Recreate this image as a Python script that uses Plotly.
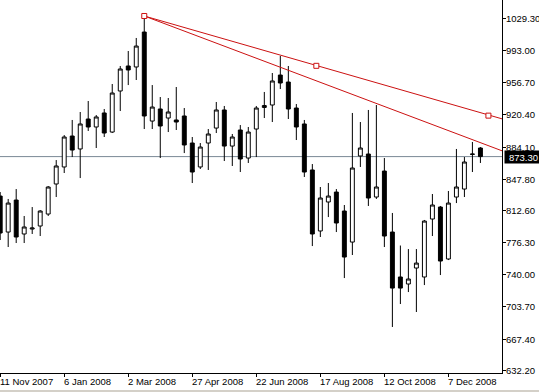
import plotly.graph_objects as go
import pandas as pd

# Weekly candles (XAUUSD), first bar week of 11 Nov 2007
dates = pd.date_range("2007-11-11", periods=61, freq="7D")

opens = [828.8, 788.2, 824.3, 786.0, 791.6, 795.0, 808.5, 842.4, 861.6, 896.5,
         881.9, 915.7, 906.7, 922.5, 901.0, 947.3, 975.5, 974.4, 1013.8, 913.4,
         927.0, 916.8, 914.6, 919.1, 888.6, 861.6, 888.6, 905.5, 925.9, 885.2,
         903.3, 871.7, 904.4, 928.7, 931.5, 965.3, 957.4, 928.1, 910.1, 858.2,
         789.4, 822.1, 833.3, 811.9, 776.9, 874.0, 876.2, 827.7, 857.0, 788.2,
         737.5, 729.6, 747.6, 737.5, 802.9, 816.4, 757.8, 827.7, 836.7, 876.2,
         883.0]
highs = [833.3, 825.5, 836.7, 806.3, 816.4, 813.0, 840.1, 869.4, 897.6, 914.6,
         923.6, 936.0, 920.2, 927.0, 955.2, 975.5, 992.4, 1007.1, 1031.9, 954.0,
         940.5, 939.4, 951.8, 928.1, 895.4, 888.6, 904.4, 934.9, 930.4, 898.8,
         908.9, 906.7, 930.4, 946.2, 967.6, 986.8, 975.5, 932.6, 914.6, 864.9,
         839.0, 843.5, 836.7, 818.7, 922.5, 912.3, 925.9, 931.5, 871.7, 809.7,
         773.0, 769.0, 769.0, 801.8, 831.1, 817.6, 834.5, 881.9, 872.8, 889.8,
         884.1]
lows = [779.2, 771.3, 775.8, 775.8, 786.0, 783.7, 806.3, 827.7, 854.8, 872.8,
        849.1, 902.2, 883.0, 895.4, 899.9, 924.7, 954.0, 959.7, 904.4, 904.4,
        871.7, 901.0, 903.3, 877.3, 843.5, 859.3, 858.2, 899.9, 868.3, 862.7,
        855.9, 866.1, 872.8, 916.8, 912.3, 949.5, 915.7, 892.0, 850.3, 772.4,
        782.6, 805.1, 788.2, 736.3, 762.3, 861.6, 817.6, 825.5, 771.3, 681.1,
        707.0, 720.5, 698.0, 728.4, 783.7, 739.7, 756.6, 820.9, 827.7, 855.9,
        866.1]
closes = [787.1, 820.9, 782.6, 793.9, 792.7, 811.9, 839.0, 862.7, 895.4, 880.7,
          910.1, 906.7, 918.0, 899.9, 945.0, 972.1, 971.0, 998.0, 919.1, 929.2,
          907.8, 923.6, 912.3, 886.4, 855.9, 884.1, 898.8, 925.9, 885.2, 895.4,
          870.6, 901.0, 928.1, 930.9, 958.6, 956.3, 927.0, 906.7, 855.9, 786.0,
          826.6, 828.8, 798.4, 760.0, 860.4, 883.0, 826.6, 839.0, 783.7, 725.0,
          725.0, 735.2, 753.2, 800.6, 818.7, 755.5, 820.9, 839.0, 867.2, 875.9,
          873.3]

bid_price = 873.3

# Trend lines (date, price)
upper_x = ["2008-03-16", "2009-01-11", "2009-01-25"]
upper_y = [1031.9, 919.5, 915.1]
upper_markers_x = ["2008-03-16", "2008-08-13 12:00", "2009-01-11"]
upper_markers_y = [1031.9, 975.7, 919.5]
lower_x = ["2008-03-16", "2009-01-25"]
lower_y = [1031.9, 878.8]

y_ticks = [1029.30, 993.00, 956.70, 920.40, 884.10, 847.80, 812.60, 776.30,
           740.00, 703.70, 667.40, 632.20]
x_tick_dates = ["2007-11-11", "2008-01-06", "2008-03-02", "2008-04-27",
                "2008-06-22", "2008-08-17", "2008-10-12", "2008-12-07"]
x_tick_labels = ["11 Nov 2007", "6 Jan 2008", "2 Mar 2008", "27 Apr 2008",
                 "22 Jun 2008", "17 Aug 2008", "12 Oct 2008", "7 Dec 2008"]

RED = "#cc1111"
FONT = "Liberation Sans"
FSIZE = 9.5

fig = go.Figure()
fig.add_trace(go.Candlestick(
    x=dates, open=opens, high=highs, low=lows, close=closes,
    increasing=dict(line=dict(color="black", width=1), fillcolor="white"),
    decreasing=dict(line=dict(color="black", width=1), fillcolor="black"),
    whiskerwidth=0, showlegend=False, hoverinfo="skip",
))
fig.add_trace(go.Scatter(x=upper_x, y=upper_y, mode="lines",
                         line=dict(color=RED, width=1), showlegend=False, hoverinfo="skip"))
fig.add_trace(go.Scatter(x=lower_x, y=lower_y, mode="lines",
                         line=dict(color=RED, width=1), showlegend=False, hoverinfo="skip"))
fig.add_trace(go.Scatter(x=upper_markers_x, y=upper_markers_y, mode="markers",
                         marker=dict(symbol="square", size=5, color="white",
                                     line=dict(color=RED, width=1)),
                         showlegend=False, hoverinfo="skip"))

fig.add_hline(y=bid_price, line=dict(color="#7a8896", width=1), layer="below")

# price-axis labels
for v in y_ticks:
    fig.add_annotation(x=1, xref="paper", y=v, yref="y", xanchor="left",
                       yanchor="middle", text=f"{v:.2f}", showarrow=False,
                       font=dict(size=FSIZE, family=FONT, color="black"),
                       xshift=3, borderpad=0)
# date-axis labels
for d, t in zip(x_tick_dates, x_tick_labels):
    fig.add_annotation(x=d, xref="x", y=0, yref="paper", xanchor="left",
                       yanchor="top", text=t, showarrow=False,
                       font=dict(size=FSIZE, family=FONT, color="black"),
                       xshift=-1, yshift=-2, borderpad=0)

fig.add_annotation(x=1, xref="paper", y=bid_price, yref="y", xanchor="left",
                   yanchor="middle", text="873.30", showarrow=False,
                   bgcolor="black", font=dict(color="white", size=FSIZE, family=FONT),
                   borderpad=0, xshift=2, width=37, height=12, align="center")

# thin grey strip at the bottom of the window
fig.add_shape(type="rect", xref="paper", yref="paper", x0=-0.01, x1=1.1,
              y0=-19/373, y1=-17/373, fillcolor="#d4d0c8", line_width=0, layer="below")

fig.update_layout(
    width=539, height=392,
    margin=dict(l=0, r=37, t=0, b=19, pad=0),
    paper_bgcolor="white", plot_bgcolor="white",
    font=dict(family=FONT, size=FSIZE, color="black"),
    xaxis=dict(type="date", range=["2007-11-10 20:00", "2009-01-22 21:00"],
               rangeslider=dict(visible=False),
               showline=True, linecolor="black", linewidth=1,
               ticks="outside", ticklen=3, tickcolor="black",
               tickvals=x_tick_dates, showticklabels=False,
               showgrid=False, zeroline=False),
    yaxis=dict(side="right", range=[629.2, 1049.94],
               showline=True, linecolor="black", linewidth=1,
               ticks="outside", ticklen=3, tickcolor="black",
               tickvals=y_ticks, showticklabels=False,
               showgrid=False, zeroline=False),
)

fig.write_html("out.html", config={"displayModeBar": False},
               post_script="document.body.style.margin='0px';")
